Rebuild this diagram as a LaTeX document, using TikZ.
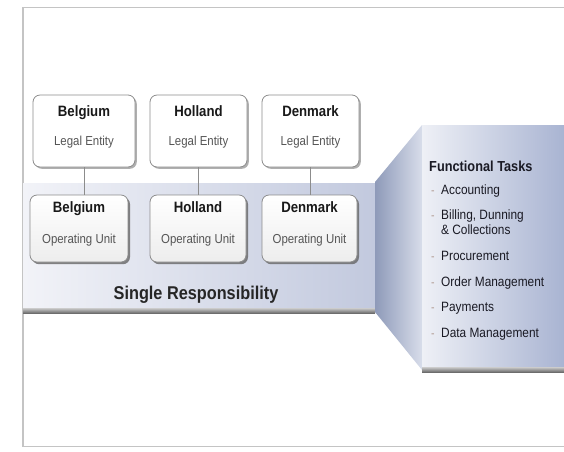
\documentclass[tikz,border=0pt]{standalone}
\usepackage{fontspec}
\setmainfont{Liberation Sans}[FakeStretch=0.88]
\usetikzlibrary{shadows}
\definecolor{framegray}{HTML}{C4C4C4}
\definecolor{boxedge}{HTML}{8C8C8C}
\definecolor{subtext}{HTML}{555555}
\definecolor{bandlight}{HTML}{F2F3F8}
\definecolor{banddark}{HTML}{C2C9DE}
\definecolor{panellight}{HTML}{EEF0F6}
\definecolor{paneldark}{HTML}{A9B4D2}
\definecolor{sidedark}{HTML}{8E9AB9}
\definecolor{sidelight}{HTML}{D8DDEA}
\definecolor{itemtext}{HTML}{1A1A24}
\definecolor{bulletcol}{HTML}{B09A90}
\begin{document}
\begin{tikzpicture}[x=1pt,y=-1pt,
  legalbox/.style={draw=boxedge,line width=0.8pt,rounded corners=7pt,fill=white,
    minimum height=72pt,inner sep=0pt,
    drop shadow={shadow xshift=1.8pt,shadow yshift=-1.8pt,fill=gray!70,opacity=0.9}},
  opbox/.style={draw=boxedge,line width=0.8pt,rounded corners=7pt,
    top color=white,bottom color=gray!14,
    minimum height=67pt,inner sep=0pt,
    drop shadow={shadow xshift=2pt,shadow yshift=-2.2pt,fill=gray!80!black,opacity=0.8}},
  title/.style={font=\fontsize{15}{17}\selectfont\bfseries,text=black!90,inner sep=0pt,anchor=base},
  sub/.style={font=\fontsize{13}{15}\selectfont,text=subtext,inner sep=0pt,anchor=base},
  link/.style={draw=gray!90,line width=0.8pt},
  item/.style={font=\fontsize{13.5}{15}\selectfont,text=itemtext,anchor=base west,inner sep=0pt},
  bulletmark/.style={font=\fontsize{12}{14}\selectfont,text=bulletcol,anchor=base west,inner sep=0pt}
]
\useasboundingbox (0,0) rectangle (564,451);
% frame
\draw[framegray,line width=1.5pt] (564,7.5) -- (23,7.5) -- (23,446.5) -- (564,446.5);

% band
\shade[left color=bandlight,right color=banddark] (23,183) rectangle (375,309);
\shade[top color=gray!40,bottom color=gray!85!black] (23,308) rectangle (375,313);

% panel side face
\shade[shading angle=60,left color=sidedark,right color=sidelight]
  (375,182) -- (422,125) -- (422,370) -- (375,312) -- cycle;
% panel front
\shade[left color=panellight,right color=paneldark] (422,125) rectangle (564,368);
\shade[top color=gray!40,bottom color=gray!85!black] (422,367) rectangle (564,372);

% legal entity boxes
\node[legalbox,minimum width=102pt] (lb) at (84,131) {};
\node[legalbox,minimum width=97pt] (lh) at (198.5,131) {};
\node[legalbox,minimum width=97pt] (ld) at (310.5,131) {};
\node[title] (lbt) at (84,116.5) {Belgium};
\node[title] (lht) at (198.5,116.5) {Holland};
\node[title] (ldt) at (310.5,116.5) {Denmark};
\node[sub] (lbs) at (84,145) {Legal Entity};
\node[sub] (lhs) at (198.5,145) {Legal Entity};
\node[sub] (lds) at (310.5,145) {Legal Entity};

% operating unit boxes
\node[opbox,minimum width=98pt] (ob) at (79,228.5) {};
\node[opbox,minimum width=96pt] (oh) at (198,228.5) {};
\node[opbox,minimum width=95pt] (od) at (309.5,228.5) {};
\node[title] (obt) at (79,212.5) {Belgium};
\node[title] (oht) at (198,212.5) {Holland};
\node[title] (odt) at (309.5,212.5) {Denmark};
\node[sub] (obs) at (79,243) {Operating Unit};
\node[sub] (ohs) at (198,243) {Operating Unit};
\node[sub] (ods) at (309.5,243) {Operating Unit};

% connectors
\draw[link] (lb.south) -- (ob.north -| lb.south);
\draw[link] (lh.south) -- (oh.north -| lh.south);
\draw[link] (ld.south) -- (od.north -| ld.south);

% band label
\node[font=\fontsize{18.5}{20}\selectfont\bfseries,text=black!85,inner sep=0pt,anchor=base] (single) at (196,299) {Single Responsibility};

% functional tasks
\node[font=\fontsize{14.5}{16}\selectfont\bfseries,text=itemtext,anchor=base west,inner sep=0pt] (ft) at (429,171) {Functional Tasks};
\node[bulletmark] (d1) at (431,194) {-};
\node[item] (t1) at (441,194) {Accounting};
\node[bulletmark] (d2) at (431,219) {-};
\node[item] (t2) at (441,219) {Billing, Dunning};
\node[item] (t2b) at (441,234) {\& Collections};
\node[bulletmark] (d3) at (431,260) {-};
\node[item] (t3) at (441,260) {Procurement};
\node[bulletmark] (d4) at (431,286) {-};
\node[item] (t4) at (441,286) {Order Management};
\node[bulletmark] (d5) at (431,311) {-};
\node[item] (t5) at (441,311) {Payments};
\node[bulletmark] (d6) at (431,337) {-};
\node[item] (t6) at (441,337) {Data Management};
\end{tikzpicture}
\end{document}
